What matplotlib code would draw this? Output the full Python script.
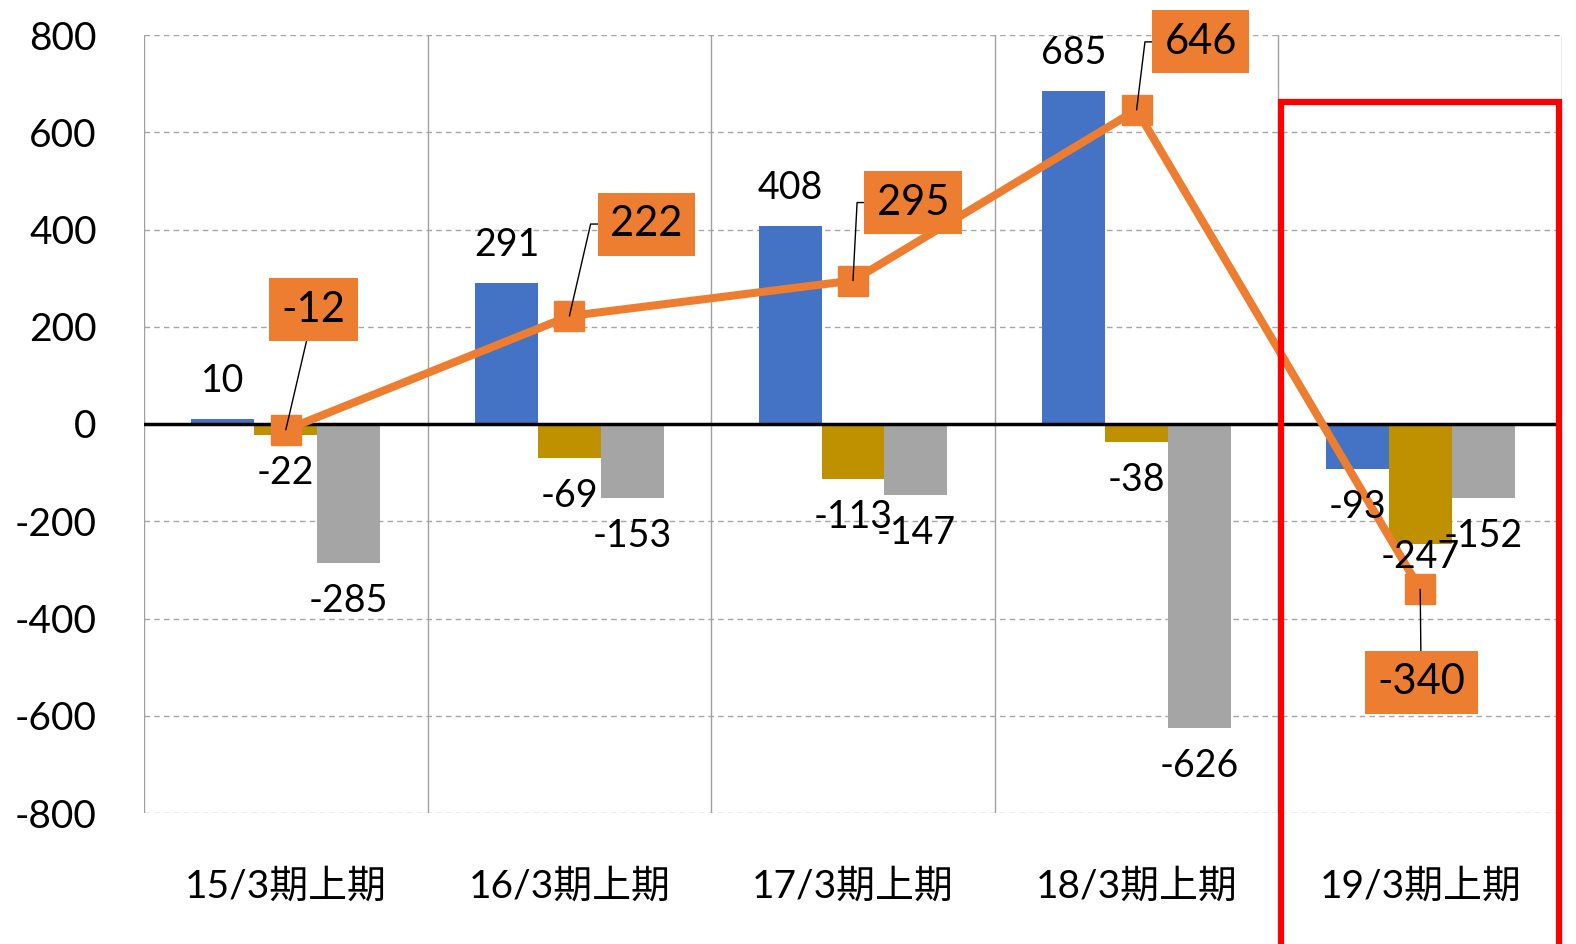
import numpy as np
import matplotlib
matplotlib.use("Agg")
import matplotlib.pyplot as plt
from matplotlib.patches import Rectangle

plt.rcParams['font.family'] = ['Lato', 'Noto Sans CJK JP', 'DejaVu Sans']
plt.rcParams['axes.unicode_minus'] = False

categories = ["15/3期上期", "16/3期上期", "17/3期上期", "18/3期上期", "19/3期上期"]
blue_vals = [10, 291, 408, 685, -93]
gold_vals = [-22, -69, -113, -38, -247]
gray_vals = [-285, -153, -147, -626, -152]
line_vals = [-12, 222, 295, 646, -340]

# label box offsets for the line (pixels from the point)
line_label_offsets = [(28, 120), (77, 92), (60, 78), (64, 68), (1, -93)]
line_label_elbow = [None, 77, 87, 83, None]

blue = "#4472C4"
gold = "#BF9000"
gray = "#A5A5A5"
orange = "#ED7D31"

fig = plt.figure(figsize=(15.76, 9.44), dpi=100)
ax = fig.add_axes([144 / 1576, 1 - 813 / 944, (1562 - 144) / 1576, (813 - 35) / 944])

x = np.arange(len(categories))
w = 0.222
series = [(blue_vals, blue, -w), (gold_vals, gold, 0), (gray_vals, gray, w)]
for vals, col, off in series:
    ax.bar(x + off, vals, width=w, color=col, zorder=2)
    for xi, v in zip(x, vals):
        dy = 38 if v >= 0 else -38
        if v == -247:
            dy = -13
        ax.annotate(str(v), (xi + off, v), xytext=(0, dy), textcoords="offset pixels",
                    ha="center", va="center", fontsize=27, zorder=6)

ax.plot(x, line_vals, color=orange, lw=5.8, marker="s", markersize=22,
        markerfacecolor=orange, markeredgecolor=orange, zorder=4)

for i, (xi, v) in enumerate(zip(x, line_vals)):
    dx, dy = line_label_offsets[i]
    if line_label_elbow[i] is None:
        cs = "arc3"
    else:
        cs = "angle,angleA=0,angleB=%d,rad=0" % line_label_elbow[i]
    ax.annotate(str(v), (xi, v), xytext=(dx, dy), textcoords="offset pixels",
                ha="center", va="center", fontsize=30, zorder=7,
                bbox=dict(boxstyle="square,pad=0.3", fc=orange, ec="none"),
                arrowprops=dict(arrowstyle="-", color="black", lw=1,
                                connectionstyle=cs, shrinkA=0, shrinkB=0))

ax.set_xlim(-0.5, 4.5)
ax.set_ylim(-800, 800)
ax.set_yticks(np.arange(-800, 801, 200))
ax.set_xticks(x)
ax.set_xticklabels(categories, fontsize=28)
ax.tick_params(axis="y", labelsize=28, length=0, pad=34)
ax.tick_params(axis="x", length=0, pad=40)

ax.grid(axis="y", color="#A6A6A6", linestyle=(0, (4, 3)), lw=1, zorder=0)
for xs in np.arange(-0.5, 4.6, 1):
    ax.axvline(xs, color="#A0A0A0", lw=1, zorder=0)
ax.axhline(0, color="black", lw=2.5, zorder=3)
for s in ax.spines.values():
    s.set_visible(False)

rect = Rectangle((3.51, -1200), 0.98, 1862, fill=False, ec="#FF0000", lw=4.5,
                 clip_on=False, zorder=8)
ax.add_patch(rect)

fig.savefig("out.png", dpi=100)
